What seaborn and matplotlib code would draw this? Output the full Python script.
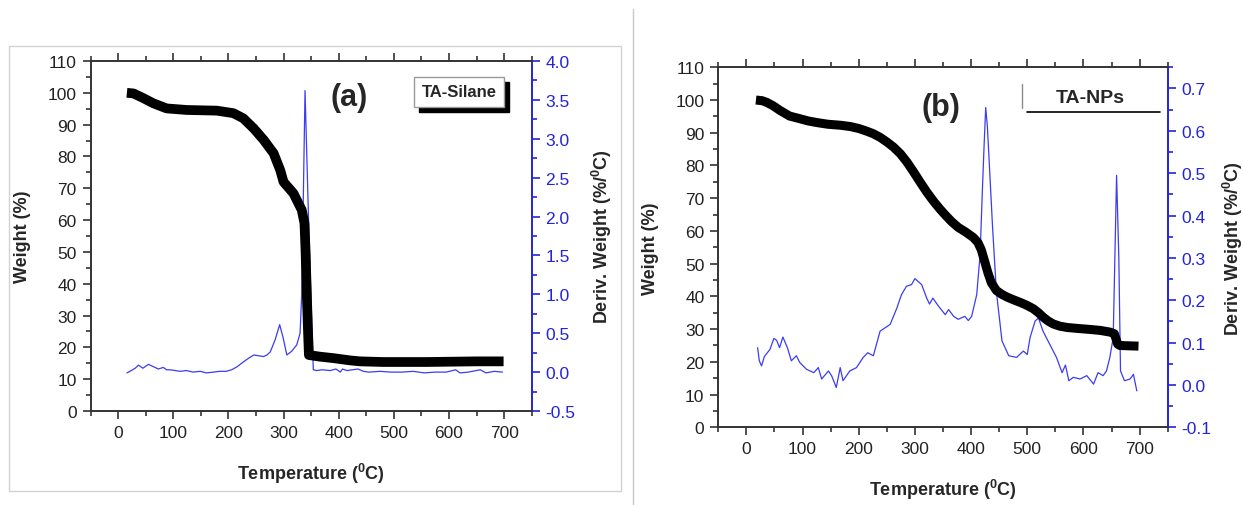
import matplotlib
matplotlib.use("Agg")
import matplotlib.pyplot as plt
import matplotlib.patches as mpatches
from matplotlib.lines import Line2D
from matplotlib.ticker import MultipleLocator, FormatStrFormatter
import seaborn as sns
import pandas as pd

# ---- data ----
# (a) TA-Silane
silane_temp = [16, 28, 45, 64, 88, 125, 179, 209, 227, 246, 264, 282, 294, 300, 318,
               333, 338, 340, 342, 344, 346, 365, 391, 421, 439, 480, 560, 650, 699]
silane_weight = [100, 99.8, 98.4, 96.7, 95.1, 94.6, 94.4, 93.6, 92.0, 88.8, 85.2, 81.0,
                 75.7, 72.0, 68.4, 63.2, 59.0, 50, 38, 27, 17.6, 17.1, 16.6, 15.9, 15.6,
                 15.4, 15.4, 15.6, 15.6]
silane_dtemp = [16, 24, 31, 37, 45, 55, 64, 73, 82, 88, 94, 104, 112, 124, 136, 149, 160,
                173, 184, 196, 206, 216, 227, 237, 246, 255, 264, 270, 276, 285, 293, 299,
                306, 315, 324, 330, 333, 336, 339, 346, 354, 360, 370, 385, 395, 403, 407,
                415, 425, 435, 445, 455, 475, 495, 515, 535, 555, 575, 595, 612, 620, 635,
                657, 667, 682, 697]
silane_deriv = [-0.01, 0.02, 0.05, 0.09, 0.05, 0.10, 0.07, 0.04, 0.06, 0.03, 0.03, 0.02,
                0.01, 0.02, 0.0, 0.01, -0.01, 0.0, 0.01, 0.01, 0.03, 0.07, 0.13, 0.18,
                0.22, 0.21, 0.20, 0.22, 0.26, 0.42, 0.61, 0.45, 0.22, 0.27, 0.35, 0.50,
                1.0, 2.3, 3.62, 1.8, 0.03, 0.02, 0.03, 0.02, 0.04, 0.0, 0.04, 0.02, 0.03,
                0.04, 0.01, 0.0, 0.01, 0.0, 0.0, 0.01, -0.01, 0.0, 0.0, 0.03, -0.01, 0.0,
                0.03, -0.01, 0.01, 0.0]

# (b) TA-NPs
nps_temp = [17, 28, 36, 48, 60, 77, 95, 110, 126, 145, 167, 185, 200, 214, 226, 238, 250,
            262, 274, 286, 297, 309, 321, 333, 345, 355, 365, 377, 390, 404, 412, 418,
            424, 430, 436, 445, 455, 464, 475, 487, 499, 511, 520, 528, 537, 546, 558,
            571, 590, 612, 630, 647, 655, 658, 661, 665, 680, 698]
nps_weight = [100, 99.8, 99.3, 98.2, 96.8, 95.1, 94.3, 93.6, 93.1, 92.6, 92.3, 91.9, 91.3,
              90.5, 89.7, 88.6, 87.2, 85.6, 83.6, 81.0, 78.2, 75.0, 71.9, 69.1, 66.6,
              64.7, 62.9, 61.1, 59.7, 58.0, 56.5, 54.3, 50.8, 47.2, 44.2, 41.8, 40.6,
              39.8, 39.0, 38.2, 37.3, 36.2, 35.0, 33.7, 32.5, 31.6, 30.9, 30.5, 30.2, 29.9,
              29.6, 29.1, 28.6, 27.0, 25.4, 25.0, 24.9, 24.8]
nps_dtemp = [20, 23, 27, 32, 42, 49, 54, 59, 65, 73, 80, 89, 95, 107, 120, 128, 134, 146,
             152, 160, 167, 172, 184, 196, 208, 216, 226, 238, 247, 256, 268, 276, 285,
             294, 300, 312, 321, 326, 332, 342, 354, 360, 369, 377, 389, 395, 401, 410,
             416, 420, 423, 426, 429, 432, 438, 445, 455, 467, 481, 493, 500, 505, 514,
             520, 528, 540, 552, 562, 568, 574, 582, 594, 606, 618, 626, 635, 641, 647,
             653, 659, 663, 666, 673, 683, 689, 695]
nps_deriv = [0.088, 0.057, 0.045, 0.067, 0.084, 0.110, 0.105, 0.088, 0.113, 0.088, 0.057,
             0.069, 0.053, 0.037, 0.029, 0.041, 0.014, 0.033, 0.021, -0.006, 0.041, 0.010,
             0.033, 0.041, 0.065, 0.076, 0.069, 0.127, 0.135, 0.143, 0.182, 0.213, 0.233,
             0.237, 0.251, 0.237, 0.205, 0.191, 0.205, 0.186, 0.166, 0.178, 0.162, 0.155,
             0.162, 0.152, 0.162, 0.213, 0.307, 0.456, 0.56, 0.655, 0.61, 0.534, 0.378,
             0.221, 0.104, 0.069, 0.065, 0.080, 0.072, 0.112, 0.151, 0.158, 0.127, 0.096,
             0.065, 0.029, 0.047, 0.010, 0.018, 0.014, 0.022, 0.002, 0.029, 0.022, 0.033,
             0.065, 0.112, 0.495, 0.30, 0.033, 0.010, 0.014, 0.025, -0.014]

BLUE_LINE = '#3c3cf2'
BLUE_TEXT = '#2424d8'
AXIS_COL = '#333333'

sns.set_theme(style='ticks')
plt.rcParams['font.family'] = ['Liberation Sans', 'DejaVu Sans']
plt.rcParams['mathtext.fontset'] = 'custom'
plt.rcParams['mathtext.rm'] = 'Liberation Sans'
plt.rcParams['mathtext.bf'] = 'Liberation Sans:bold'
plt.rcParams['axes.unicode_minus'] = False

W, H = 1243, 506
fig = plt.figure(figsize=(W / 100, H / 100), dpi=100)
fig.patch.set_facecolor('white')

# light frame around panel (a) and divider
fig.add_artist(mpatches.Rectangle((9 / W, 1 - 491.7 / H), (621 - 9) / W, (491.7 - 46.7) / H,
                                  transform=fig.transFigure, fill=False,
                                  edgecolor='#d2d2d2', linewidth=1))
fig.add_artist(Line2D([633 / W, 633 / W], [0, 1 - 10 / H], transform=fig.transFigure,
                      color='#c8c8c8', linewidth=1))


def style_axes(ax, ax2, r_lim, r_major, r_minor, rpad):
    ax.set_xlim(-50, 750)
    ax.set_ylim(0, 110)
    ax.xaxis.set_major_locator(MultipleLocator(100))
    ax.xaxis.set_minor_locator(MultipleLocator(50))
    ax.yaxis.set_major_locator(MultipleLocator(10))
    ax.yaxis.set_minor_locator(MultipleLocator(5))
    ax.tick_params(which='both', direction='out', top=True, right=False,
                   colors=AXIS_COL, labelcolor='#222222', labelsize=12.5, width=1.2)
    ax.tick_params(which='major', length=6, pad=4)
    ax.tick_params(which='minor', length=3.5)
    for s in ['left', 'bottom', 'top']:
        ax.spines[s].set_color(AXIS_COL)
        ax.spines[s].set_linewidth(1.4)
    ax.spines['right'].set_visible(False)
    ax.grid(False)

    ax2.set_ylim(*r_lim)
    ax2.yaxis.set_major_locator(MultipleLocator(r_major))
    ax2.yaxis.set_minor_locator(MultipleLocator(r_minor))
    ax2.yaxis.set_major_formatter(FormatStrFormatter('%.1f'))
    ax2.tick_params(which='both', direction='out', colors=BLUE_TEXT, labelsize=12.5, width=1.2)
    ax2.tick_params(which='major', length=6, pad=4)
    ax2.tick_params(which='minor', length=3.5)
    ax2.spines['right'].set_color(BLUE_TEXT)
    ax2.spines['right'].set_linewidth(1.4)
    for s in ['left', 'bottom', 'top']:
        ax2.spines[s].set_visible(False)
    ax2.grid(False)

    ax.set_xlabel('Temperature ($^{\\mathbf{0}}$C)', fontsize=13, fontweight='bold',
                  labelpad=15)
    ax.set_ylabel('Weight (%)', fontsize=13, fontweight='bold', labelpad=12)
    ax2.set_ylabel('Deriv. Weight (%/$^{\\mathbf{0}}$C)', fontsize=13, fontweight='bold',
                   labelpad=rpad)


def draw_panel(rect, w_t, w_v, d_t, d_v, lw, r_lim, r_major, r_minor, rpad):
    ax = fig.add_axes(rect)
    ax2 = ax.twinx()
    ax.set_zorder(ax2.get_zorder() + 1)
    ax.patch.set_visible(False)
    dw = pd.DataFrame({'temp': w_t, 'weight': w_v})
    dd = pd.DataFrame({'temp': d_t, 'deriv': d_v})
    sns.lineplot(data=dd, x='temp', y='deriv', ax=ax2, color=BLUE_LINE, linewidth=0.9,
                 estimator=None, sort=False)
    sns.lineplot(data=dw, x='temp', y='weight', ax=ax, color='black', linewidth=lw,
                 estimator=None, sort=False, solid_capstyle='butt',
                 solid_joinstyle='round')
    style_axes(ax, ax2, r_lim, r_major, r_minor, rpad)
    return ax, ax2


# panel (a)
ax_a, ax_a2 = draw_panel([90.5 / W, 1 - 412 / H, (531.7 - 90.5) / W, (412 - 62) / H],
                         silane_temp, silane_weight, silane_dtemp, silane_deriv,
                         7.0, (-0.5, 4.0), 0.5, 0.25, 10)
ax_a.text(0.587, 0.898, '(a)', transform=ax_a.transAxes, fontsize=22, fontweight='bold',
          ha='center', va='center')
leg = ax_a.legend(handles=[Line2D([], [], linestyle='none')], labels=['TA-Silane'],
                  loc='upper right', bbox_to_anchor=(0.937, 0.955), borderaxespad=0,
                  handlelength=0, handletextpad=0, fancybox=False, framealpha=1,
                  edgecolor='#9a9a9a', prop={'weight': 'bold', 'size': 12},
                  borderpad=0.45, shadow={'ox': 3.5, 'oy': -3.5, 'color': 'black',
                                          'alpha': 1})
leg.get_frame().set_linewidth(1.0)

# panel (b)
ax_b, ax_b2 = draw_panel([718.3 / W, 1 - 428.3 / H, (1167.7 - 718.3) / W, (428.3 - 68.3) / H],
                         nps_temp, nps_weight, nps_dtemp, nps_deriv,
                         6.5, (-0.1, 0.75), 0.1, 0.05, 7)
ax_b.text(0.4955, 0.89, '(b)', transform=ax_b.transAxes, fontsize=22, fontweight='bold',
          ha='center', va='center')
ax_b.text(0.827, 0.917, 'TA-NPs', transform=ax_b.transAxes, fontsize=14, fontweight='bold',
          ha='center', va='center')
ax_b.plot([0.687, 0.983], [0.877, 0.877], transform=ax_b.transAxes, color='black',
          linewidth=1.2, clip_on=False)
ax_b.plot([0.675, 0.675], [0.887, 0.954], transform=ax_b.transAxes, color='#8a8a8a',
          linewidth=1.0, clip_on=False)

fig.savefig('out.png', dpi=100, facecolor='white')
